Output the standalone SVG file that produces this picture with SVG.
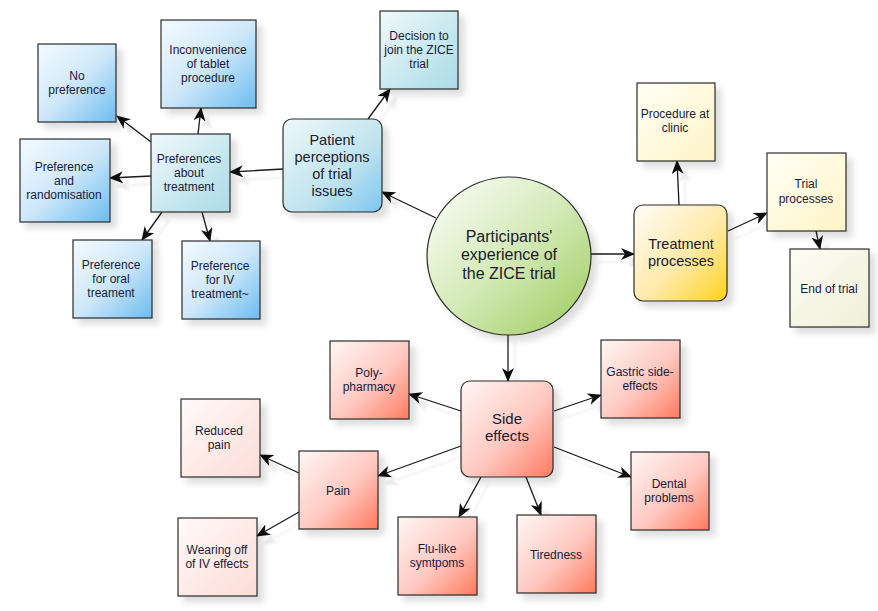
<svg xmlns="http://www.w3.org/2000/svg" width="878" height="611" viewBox="0 0 878 611">
<defs>
<style>
.n{stroke:#2b2b2b;stroke-width:1.2;filter:url(#sh)}
.t{font-family:"Liberation Sans",Arial,sans-serif;font-size:12px;fill:#1a1a3a;text-anchor:middle}
.tl{font-family:"Liberation Sans",Arial,sans-serif;font-size:14.5px;fill:#1a1a2a;text-anchor:middle}
.c{stroke:#1a1a1a;stroke-width:1.3;fill:none;marker-end:url(#ah)}
</style>
<filter id="sh" x="-20%" y="-20%" width="150%" height="150%">
<feDropShadow dx="6" dy="6" stdDeviation="3" flood-color="#000" flood-opacity="0.13"/>
</filter>
<filter id="csh" x="-30%" y="-30%" width="160%" height="160%">
<feDropShadow dx="7" dy="8" stdDeviation="1" flood-color="#000" flood-opacity="0.08"/>
</filter>
<marker id="ah" viewBox="0 0 14 12" refX="13" refY="6" markerWidth="14" markerHeight="12" markerUnits="userSpaceOnUse" orient="auto">
<path d="M0,0 L14,6 L0,12 L4,6 z" fill="#111"/>
</marker>
<linearGradient id="gBlue" x1="0" y1="0" x2="1" y2="1"><stop offset="0" stop-color="#f4faff"/><stop offset="0.5" stop-color="#cfe8fa"/><stop offset="1" stop-color="#6cbcf0"/></linearGradient>
<linearGradient id="gTeal" x1="0" y1="0" x2="1" y2="1"><stop offset="0" stop-color="#f0f9fb"/><stop offset="1" stop-color="#a9dbe6"/></linearGradient>
<linearGradient id="gPat" x1="0" y1="0" x2="1" y2="1"><stop offset="0" stop-color="#eef8fa"/><stop offset="0.6" stop-color="#bfe3ee"/><stop offset="1" stop-color="#7cc6f2"/></linearGradient>
<linearGradient id="gYel" x1="0" y1="0" x2="1" y2="1"><stop offset="0" stop-color="#fffff6"/><stop offset="1" stop-color="#fff4c6"/></linearGradient>
<linearGradient id="gBei" x1="0" y1="0" x2="1" y2="1"><stop offset="0" stop-color="#fdfdf6"/><stop offset="1" stop-color="#efefd8"/></linearGradient>
<linearGradient id="gGold" x1="0" y1="0" x2="1" y2="1"><stop offset="0" stop-color="#fffdf8"/><stop offset="0.55" stop-color="#ffeaa8"/><stop offset="1" stop-color="#ffd21c"/></linearGradient>
<linearGradient id="gRed" x1="0" y1="0" x2="1" y2="1"><stop offset="0" stop-color="#fff6f5"/><stop offset="0.55" stop-color="#ffc8c0"/><stop offset="1" stop-color="#ff7a5e"/></linearGradient>
<linearGradient id="gPink" x1="0" y1="0" x2="1" y2="1"><stop offset="0" stop-color="#fffafa"/><stop offset="1" stop-color="#fcdcd6"/></linearGradient>
<linearGradient id="gGreen" x1="0" y1="0" x2="1" y2="1"><stop offset="0.1" stop-color="#f5faef"/><stop offset="0.5" stop-color="#d4eab8"/><stop offset="1" stop-color="#9ccb5a"/></linearGradient>
</defs>
<rect width="878" height="611" fill="#fff"/>

<g id="connectors" filter="url(#csh)">
<line class="c" x1="436" y1="218" x2="382" y2="192"/>
<line class="c" x1="283" y1="169" x2="230" y2="172"/>
<line class="c" x1="368" y1="119" x2="390" y2="89"/>
<line class="c" x1="151" y1="142" x2="117" y2="116"/>
<line class="c" x1="198" y1="134" x2="201" y2="108"/>
<line class="c" x1="151" y1="176" x2="110" y2="178"/>
<line class="c" x1="162" y1="212" x2="142" y2="240"/>
<line class="c" x1="202" y1="212" x2="210" y2="241"/>
<line class="c" x1="591" y1="254" x2="634" y2="254"/>
<line class="c" x1="679" y1="205" x2="677" y2="161"/>
<line class="c" x1="728" y1="231" x2="767" y2="213"/>
<line class="c" x1="816" y1="231" x2="820" y2="249"/>
<line class="c" x1="508" y1="334" x2="508" y2="381"/>
<line class="c" x1="461" y1="411" x2="409" y2="394"/>
<line class="c" x1="554" y1="411" x2="601" y2="395"/>
<line class="c" x1="461" y1="446" x2="378" y2="476"/>
<line class="c" x1="554" y1="447" x2="631" y2="477"/>
<line class="c" x1="481" y1="477" x2="459" y2="517"/>
<line class="c" x1="526" y1="477" x2="541" y2="515"/>
<line class="c" x1="299" y1="473" x2="260" y2="455"/>
<line class="c" x1="299" y1="512" x2="257" y2="536"/>
</g>

<g id="center"><ellipse class="n" cx="509" cy="256" rx="82" ry="79" fill="url(#gGreen)"/>
<text class="tl" style="font-size:16px"><tspan x="509" y="242">Participants'</tspan><tspan x="509" y="260">experience of</tspan><tspan x="509" y="279">the ZICE trial</tspan></text></g>

<g id="patient"><rect class="n" x="283" y="119" width="99" height="93" rx="9" fill="url(#gPat)"/>
<text class="tl"><tspan x="332" y="145">Patient</tspan><tspan x="332" y="162">perceptions</tspan><tspan x="332" y="179">of trial</tspan><tspan x="332" y="196">issues</tspan></text></g>

<g id="decision"><rect class="n" x="380" y="11" width="78" height="78" fill="url(#gTeal)"/>
<text class="t"><tspan x="419" y="40">Decision to</tspan><tspan x="419" y="54">join the ZICE</tspan><tspan x="419" y="68">trial</tspan></text></g>

<g id="prefs"><rect class="n" x="151" y="134" width="79" height="78" fill="url(#gTeal)"/>
<text class="t"><tspan x="189" y="163">Preferences</tspan><tspan x="189" y="177">about</tspan><tspan x="189" y="191">treatment</tspan></text></g>

<g id="nopref"><rect class="n" x="38" y="44" width="78" height="78" fill="url(#gBlue)"/>
<text class="t"><tspan x="77" y="80">No</tspan><tspan x="77" y="94">preference</tspan></text></g>

<g id="inconv"><rect class="n" x="161" y="20" width="95" height="88" fill="url(#gBlue)"/>
<text class="t"><tspan x="208" y="54">Inconvenience</tspan><tspan x="208" y="68">of tablet</tspan><tspan x="208" y="82">procedure</tspan></text></g>

<g id="prefrand"><rect class="n" x="20" y="139" width="90" height="83" fill="url(#gBlue)"/>
<text class="t"><tspan x="64" y="171">Preference</tspan><tspan x="64" y="185">and</tspan><tspan x="64" y="199">randomisation</tspan></text></g>

<g id="preforal"><rect class="n" x="73" y="240" width="79" height="78" fill="url(#gBlue)"/>
<text class="t"><tspan x="111" y="269">Preference</tspan><tspan x="111" y="283">for oral</tspan><tspan x="111" y="297">treament</tspan></text></g>

<g id="prefiv"><rect class="n" x="182" y="241" width="78" height="78" fill="url(#gBlue)"/>
<text class="t"><tspan x="220" y="270">Preference</tspan><tspan x="220" y="284">for IV</tspan><tspan x="220" y="298">treatment~</tspan></text></g>

<g id="treatment"><rect class="n" x="634" y="205" width="93" height="96" rx="9" fill="url(#gGold)"/>
<text class="tl"><tspan x="681" y="249">Treatment</tspan><tspan x="681" y="266">processes</tspan></text></g>

<g id="clinic"><rect class="n" x="637" y="83" width="78" height="78" fill="url(#gYel)"/>
<text class="t"><tspan x="675" y="118">Procedure at</tspan><tspan x="675" y="132">clinic</tspan></text></g>

<g id="trialproc"><rect class="n" x="767" y="153" width="79" height="78" fill="url(#gYel)"/>
<text class="t"><tspan x="806" y="188">Trial</tspan><tspan x="806" y="203">processes</tspan></text></g>

<g id="endtrial"><rect class="n" x="790" y="249" width="79" height="78" fill="url(#gBei)"/>
<text class="t"><tspan x="829" y="293">End of trial</tspan></text></g>

<g id="side"><rect class="n" x="461" y="381" width="92" height="96" rx="9" fill="url(#gRed)"/>
<text class="tl" style="font-size:15px"><tspan x="507" y="424">Side</tspan><tspan x="507" y="441">effects</tspan></text></g>

<g id="poly"><rect class="n" x="330" y="341" width="79" height="78" fill="url(#gRed)"/>
<text class="t"><tspan x="369" y="377">Poly-</tspan><tspan x="369" y="391">pharmacy</tspan></text></g>

<g id="gastric"><rect class="n" x="601" y="340" width="79" height="78" fill="url(#gRed)"/>
<text class="t"><tspan x="640" y="376">Gastric side-</tspan><tspan x="640" y="390">effects</tspan></text></g>

<g id="dental"><rect class="n" x="631" y="452" width="78" height="78" fill="url(#gRed)"/>
<text class="t"><tspan x="669" y="488">Dental</tspan><tspan x="669" y="502">problems</tspan></text></g>

<g id="flu"><rect class="n" x="398" y="517" width="79" height="78" fill="url(#gRed)"/>
<text class="t"><tspan x="437" y="553">Flu-like</tspan><tspan x="437" y="567">symtpoms</tspan></text></g>

<g id="tired"><rect class="n" x="517" y="515" width="79" height="78" fill="url(#gRed)"/>
<text class="t"><tspan x="556" y="559">Tiredness</tspan></text></g>

<g id="pain"><rect class="n" x="299" y="451" width="79" height="78" fill="url(#gRed)"/>
<text class="t"><tspan x="338" y="495">Pain</tspan></text></g>

<g id="reduced"><rect class="n" x="181" y="399" width="79" height="78" fill="url(#gPink)"/>
<text class="t"><tspan x="219" y="435">Reduced</tspan><tspan x="219" y="449">pain</tspan></text></g>

<g id="wearing"><rect class="n" x="178" y="518" width="79" height="78" fill="url(#gPink)"/>
<text class="t"><tspan x="217" y="554">Wearing off</tspan><tspan x="217" y="568">of IV effects</tspan></text></g>
</svg>
